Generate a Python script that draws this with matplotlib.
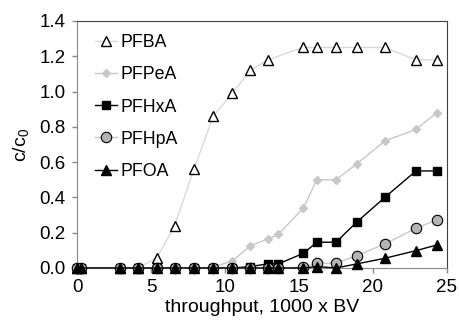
import matplotlib
matplotlib.use("Agg")
import matplotlib.pyplot as plt

plt.rcParams['font.family'] = ['Liberation Sans', 'DejaVu Sans']
plt.rcParams['mathtext.fontset'] = 'custom'
plt.rcParams['mathtext.rm'] = 'Liberation Sans'
plt.rcParams['mathtext.it'] = 'Liberation Sans'

x = [0, 0.3, 2.9, 4.1, 5.4, 6.6, 7.9, 9.2, 10.5, 11.7, 12.9, 13.6, 15.3, 16.2, 17.5, 18.9, 20.8, 22.9, 24.3]
x_pfba = [0, 0.3, 2.9, 4.1, 5.4, 6.6, 7.9, 9.2, 10.5, 11.7, 12.9, 15.3, 16.2, 17.5, 18.9, 20.8, 22.9, 24.3]
pfba = [0, 0, 0, 0, 0.057, 0.24, 0.56, 0.86, 0.99, 1.12, 1.18, 1.25, 1.25, 1.25, 1.25, 1.25, 1.18, 1.18]
pfpea = [0, 0, 0, 0, 0, 0, 0, 0.005, 0.04, 0.125, 0.165, 0.19, 0.34, 0.50, 0.50, 0.59, 0.72, 0.785, 0.88]
pfhxa = [0, 0, 0, 0, 0, 0, 0, 0, 0, 0.008, 0.023, 0.023, 0.083, 0.146, 0.146, 0.26, 0.40, 0.55, 0.55]
pfhpa = [0, 0, 0, 0, 0, 0, 0, 0, 0, 0, 0, 0, 0.005, 0.027, 0.027, 0.07, 0.136, 0.225, 0.272]
pfoa = [0, 0, 0, 0, 0, 0, 0, 0, 0, 0, 0, 0, 0, 0.008, 0.0, 0.023, 0.055, 0.098, 0.13]
labels = ['PFBA', 'PFPeA', 'PFHxA', 'PFHpA', 'PFOA']

fig = plt.figure(figsize=(4.6, 3.26), dpi=100)
ax = fig.add_axes([0.1674, 0.178, 0.8043, 0.7576])

ax.plot(x_pfba, pfba, color='#d9d9d9', lw=1, marker='^', ms=7, mfc='white', mec='black', mew=1,
        label=labels[0], clip_on=False, zorder=3)
ax.plot(x, pfpea, color='#c8c8c8', lw=1, marker='D', ms=4.5, mfc='#c8c8c8', mec='#c8c8c8',
        label=labels[1], clip_on=False, zorder=3)
ax.plot(x, pfhxa, color='black', lw=1, marker='s', ms=6, mfc='black', mec='black',
        label=labels[2], clip_on=False, zorder=4)
ax.plot(x, pfhpa, color='#c8c8c8', lw=1, marker='o', ms=7.5, mfc='#b4b4b4', mec='black', mew=0.8,
        label=labels[3], clip_on=False, zorder=5)
ax.plot(x, pfoa, color='black', lw=1, marker='^', ms=6.5, mfc='black', mec='black',
        label=labels[4], clip_on=False, zorder=6)

ax.set_xlim(0, 25)
ax.set_ylim(0, 1.4)
ax.set_xticks([0, 5, 10, 15, 20, 25])
ax.set_yticks([0, 0.2, 0.4, 0.6, 0.8, 1.0, 1.2, 1.4])
ax.set_yticklabels(['0.0', '0.2', '0.4', '0.6', '0.8', '1.0', '1.2', '1.4'])
ax.tick_params(axis='both', labelsize=13.5, color='#888888', length=3.6, width=1, direction='out', pad=4.5)

for s in ['left', 'bottom']:
    ax.spines[s].set_color('#888888')
for s in ['top', 'right']:
    ax.spines[s].set_color('#404040')

ax.set_xlabel('throughput, 1000 x BV', fontsize=14, labelpad=2)
ax.set_ylabel(r'c/c$_0$', fontsize=14, labelpad=6)

leg = ax.legend(loc='upper left', frameon=False, fontsize=12.8, handlelength=1.2,
                labelspacing=0.85, borderaxespad=0.0, handletextpad=0.2,
                bbox_to_anchor=(0.03, 0.975))

fig.savefig('out.png', dpi=100)
